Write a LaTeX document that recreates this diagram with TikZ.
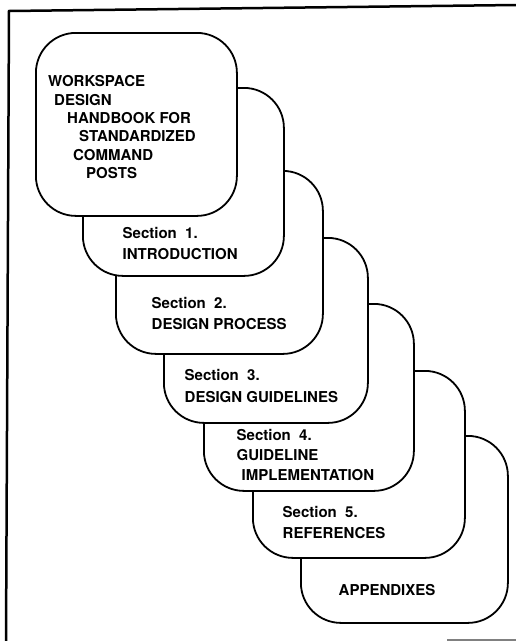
\documentclass[tikz,border=0pt]{standalone}
\usepackage{fontspec}
\setmainfont{TeX Gyre Heros}
\begin{document}
\begin{tikzpicture}[x=1pt,y=-1pt,
    sheet/.style={draw,line width=1.8pt,fill=white,rounded corners=40pt,anchor=north west,inner sep=0pt},
    txt/.style={anchor=north west,inner sep=0pt,align=left,font=\fontsize{15}{21}\selectfont\bfseries}]
  \useasboundingbox (0,0) rectangle (516,641);
  % frame of the page
  \coordinate (tl) at (9,11);
  \coordinate (tr) at (516,5);
  \coordinate (bl) at (6,641);
  \draw[line width=2.5pt] (tr) -- (tl) -- (bl);
  \coordinate (gl) at (447,640);
  \coordinate (gr) at (516,640);
  \draw[gray,line width=1.5pt] (gl) -- (gr);

  % sheets, back to front
  \node[sheet,minimum width=207pt,minimum height=187pt] (appx) at (300,435) {};
  \node[sheet,minimum width=212pt,minimum height=187pt] (sec5) at (252,370) {};
  \node[sheet,minimum width=210pt,minimum height=187pt] (sec4) at (203,303) {};
  \node[sheet,minimum width=204pt,minimum height=185pt] (sec3) at (163,237) {};
  \node[sheet,minimum width=207pt,minimum height=183pt] (sec2) at (115,170) {};
  \node[sheet,minimum width=201pt,minimum height=188pt] (sec1) at (82,87) {};
  \node[sheet,minimum width=201pt,minimum height=183pt] (cover) at (35,32) {};

  % texts
  \node[txt,font=\fontsize{15}{18.3}\selectfont\bfseries] (title) at (48,75.5)
    {WORKSPACE\\\hspace*{6pt}DESIGN\\\hspace*{19pt}HANDBOOK FOR\\\hspace*{31pt}STANDARDIZED\\\hspace*{25pt}COMMAND\\\hspace*{38pt}POSTS};
  \node[txt] (sec1txt) at (122.5,227.5) {Section~~1.\\INTRODUCTION};
  \node[txt] (sec2txt) at (151.5,297.5) {Section~~2.\\DESIGN PROCESS};
  \node[txt,font=\fontsize{15}{22}\selectfont\bfseries] (sec3txt) at (184.5,369.5) {Section~~3.\\DESIGN GUIDELINES};
  \node[txt,font=\fontsize{15}{20}\selectfont\bfseries] (sec4txt) at (236.5,429.5) {Section~~4.\\GUIDELINE\\\hspace*{5pt}IMPLEMENTATION};
  \node[txt] (sec5txt) at (282.5,506.5) {Section~~5.\\REFERENCES};
  \node[txt] (appxtxt) at (338.5,584.5) {APPENDIXES};
\end{tikzpicture}
\end{document}
